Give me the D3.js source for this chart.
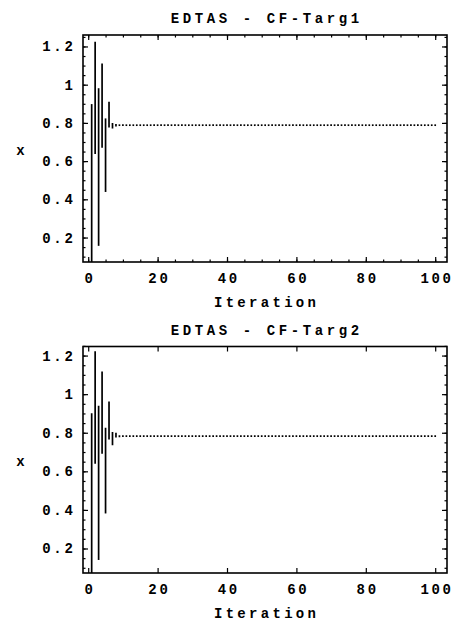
<!DOCTYPE html>
<html>
<head>
<meta charset="utf-8">
<script src="https://cdn.jsdelivr.net/npm/d3@7"></script>
<style>
  html, body { margin: 0; padding: 0; background: #fff; }
  svg { display: block; }
  text { font-family: "Liberation Mono", "DejaVu Sans Mono", monospace; fill: #000; }
</style>
</head>
<body>
<svg id="chart" width="456" height="624"></svg>
<script>
// Iteration axis
const xTicks = [0, 20, 40, 60, 80, 100];
const xMinorTicks = [0, 5, 10, 15, 20, 25, 30, 35, 40, 45, 50, 55, 60, 65, 70, 75, 80, 85, 90, 95, 100];
// x axis
const yTicks = [0.2, 0.4, 0.6, 0.8, 1.0, 1.2];
const yTickLabels = ["0.2", "0.4", "0.6", "0.8", "1", "1.2"];
const yMinorTicks = [0.1, 0.15, 0.2, 0.25, 0.3, 0.35, 0.4, 0.45, 0.5, 0.55, 0.6, 0.65, 0.7, 0.75,
                     0.8, 0.85, 0.9, 0.95, 1.0, 1.05, 1.1, 1.15, 1.2, 1.25];

const titles = ["EDTAS - CF-Targ1", "EDTAS - CF-Targ2"];
const xLabel = "Iteration";
const yLabel = "x";

// Population range (low / high) of x at each iteration 1..100
const targ1High = [
  0.894, 1.220, 0.977, 1.107, 0.819, 0.906, 0.795, 0.790, 0.788, 0.788,
  0.788, 0.788, 0.788, 0.788, 0.788, 0.788, 0.788, 0.788, 0.788, 0.788,
  0.788, 0.788, 0.788, 0.788, 0.788, 0.788, 0.788, 0.788, 0.788, 0.788,
  0.788, 0.788, 0.788, 0.788, 0.788, 0.788, 0.788, 0.788, 0.788, 0.788,
  0.788, 0.788, 0.788, 0.788, 0.788, 0.788, 0.788, 0.788, 0.788, 0.788,
  0.788, 0.788, 0.788, 0.788, 0.788, 0.788, 0.788, 0.788, 0.788, 0.788,
  0.788, 0.788, 0.788, 0.788, 0.788, 0.788, 0.788, 0.788, 0.788, 0.788,
  0.788, 0.788, 0.788, 0.788, 0.788, 0.788, 0.788, 0.788, 0.788, 0.788,
  0.788, 0.788, 0.788, 0.788, 0.788, 0.788, 0.788, 0.788, 0.788, 0.788,
  0.788, 0.788, 0.788, 0.788, 0.788, 0.788, 0.788, 0.788, 0.788, 0.788
];
const targ1Low = [
  0.000, 0.642, 0.161, 0.675, 0.443, 0.780, 0.775, 0.786, 0.788, 0.788,
  0.788, 0.788, 0.788, 0.788, 0.788, 0.788, 0.788, 0.788, 0.788, 0.788,
  0.788, 0.788, 0.788, 0.788, 0.788, 0.788, 0.788, 0.788, 0.788, 0.788,
  0.788, 0.788, 0.788, 0.788, 0.788, 0.788, 0.788, 0.788, 0.788, 0.788,
  0.788, 0.788, 0.788, 0.788, 0.788, 0.788, 0.788, 0.788, 0.788, 0.788,
  0.788, 0.788, 0.788, 0.788, 0.788, 0.788, 0.788, 0.788, 0.788, 0.788,
  0.788, 0.788, 0.788, 0.788, 0.788, 0.788, 0.788, 0.788, 0.788, 0.788,
  0.788, 0.788, 0.788, 0.788, 0.788, 0.788, 0.788, 0.788, 0.788, 0.788,
  0.788, 0.788, 0.788, 0.788, 0.788, 0.788, 0.788, 0.788, 0.788, 0.788,
  0.788, 0.788, 0.788, 0.788, 0.788, 0.788, 0.788, 0.788, 0.788, 0.788
];
const targ2High = [
  0.896, 1.218, 0.936, 1.113, 0.821, 0.957, 0.800, 0.795, 0.783, 0.782,
  0.782, 0.782, 0.782, 0.782, 0.782, 0.782, 0.782, 0.782, 0.782, 0.782,
  0.782, 0.782, 0.782, 0.782, 0.782, 0.782, 0.782, 0.782, 0.782, 0.782,
  0.782, 0.782, 0.782, 0.782, 0.782, 0.782, 0.782, 0.782, 0.782, 0.782,
  0.782, 0.782, 0.782, 0.782, 0.782, 0.782, 0.782, 0.782, 0.782, 0.782,
  0.782, 0.782, 0.782, 0.782, 0.782, 0.782, 0.782, 0.782, 0.782, 0.782,
  0.782, 0.782, 0.782, 0.782, 0.782, 0.782, 0.782, 0.782, 0.782, 0.782,
  0.782, 0.782, 0.782, 0.782, 0.782, 0.782, 0.782, 0.782, 0.782, 0.782,
  0.782, 0.782, 0.782, 0.782, 0.782, 0.782, 0.782, 0.782, 0.782, 0.782,
  0.782, 0.782, 0.782, 0.782, 0.782, 0.782, 0.782, 0.782, 0.782, 0.782
];
const targ2Low = [
  0.000, 0.644, 0.145, 0.696, 0.386, 0.769, 0.739, 0.780, 0.781, 0.782,
  0.782, 0.782, 0.782, 0.782, 0.782, 0.782, 0.782, 0.782, 0.782, 0.782,
  0.782, 0.782, 0.782, 0.782, 0.782, 0.782, 0.782, 0.782, 0.782, 0.782,
  0.782, 0.782, 0.782, 0.782, 0.782, 0.782, 0.782, 0.782, 0.782, 0.782,
  0.782, 0.782, 0.782, 0.782, 0.782, 0.782, 0.782, 0.782, 0.782, 0.782,
  0.782, 0.782, 0.782, 0.782, 0.782, 0.782, 0.782, 0.782, 0.782, 0.782,
  0.782, 0.782, 0.782, 0.782, 0.782, 0.782, 0.782, 0.782, 0.782, 0.782,
  0.782, 0.782, 0.782, 0.782, 0.782, 0.782, 0.782, 0.782, 0.782, 0.782,
  0.782, 0.782, 0.782, 0.782, 0.782, 0.782, 0.782, 0.782, 0.782, 0.782,
  0.782, 0.782, 0.782, 0.782, 0.782, 0.782, 0.782, 0.782, 0.782, 0.782
];

const panels = [
  { title: titles[0], high: targ1High, low: targ1Low, top: 35,    bottom: 262, yDomain: [0.072, 1.26],  xMinor: true },
  { title: titles[1], high: targ2High, low: targ2Low, top: 346.5, bottom: 573, yDomain: [0.073, 1.247], xMinor: false }
];

const left = 83, right = 447;
const fontSize = 14;
const svg = d3.select("#chart");

panels.forEach((p, i) => {
  const x = d3.scaleLinear().domain([-1.5, 103.4]).range([left, right]);
  const y = d3.scaleLinear().domain(p.yDomain).range([p.bottom, p.top]);
  const g = svg.append("g");

  const clipId = "clip" + i;
  svg.append("clipPath").attr("id", clipId)
    .append("rect").attr("x", left).attr("y", p.top)
    .attr("width", right - left).attr("height", p.bottom - p.top);

  // Per-iteration range of the population
  const rows = p.high.map((h, k) => ({ it: k + 1, hi: h, lo: p.low[k] }));
  g.append("g").attr("clip-path", `url(#${clipId})`)
    .selectAll("line").data(rows).join("line")
    .attr("x1", d => x(d.it)).attr("x2", d => x(d.it))
    .attr("y1", d => y(d.hi)).attr("y2", d => y(d.lo))
    .attr("stroke", "#000").attr("stroke-width", 1.7)
    .attr("stroke-linecap", "square");

  // Inward ticks on all four sides
  const addAxis = (axis, tx, ty) => {
    const a = g.append("g").attr("transform", `translate(${tx},${ty})`).call(axis);
    a.select(".domain").remove();
    a.selectAll(".tick line").attr("stroke", "#000").attr("stroke-width", 1.2);
    return a;
  };
  const major = 5, minor = 2.5;

  if (p.xMinor) {
    addAxis(d3.axisBottom(x).tickValues(xMinorTicks).tickSizeInner(-minor).tickSizeOuter(0).tickFormat(""), 0, p.bottom);
    addAxis(d3.axisTop(x).tickValues(xMinorTicks).tickSizeInner(-minor).tickSizeOuter(0).tickFormat(""), 0, p.top);
  }
  const xb = addAxis(d3.axisBottom(x).tickValues(xTicks).tickSizeInner(-major).tickSizeOuter(0).tickPadding(11).tickFormat(d3.format("d")), 0, p.bottom);
  addAxis(d3.axisTop(x).tickValues(xTicks).tickSizeInner(-major).tickSizeOuter(0).tickFormat(""), 0, p.top);

  addAxis(d3.axisLeft(y).tickValues(yMinorTicks).tickSizeInner(-minor).tickSizeOuter(0).tickFormat(""), left, 0);
  addAxis(d3.axisRight(y).tickValues(yMinorTicks).tickSizeInner(-minor).tickSizeOuter(0).tickFormat(""), right, 0);
  const yl = addAxis(d3.axisLeft(y).tickValues(yTicks).tickSizeInner(-major).tickSizeOuter(0).tickPadding(7.5)
    .tickFormat((d, k) => yTickLabels[k]), left, 0);
  addAxis(d3.axisRight(y).tickValues(yTicks).tickSizeInner(-major).tickSizeOuter(0).tickFormat(""), right, 0);

  [xb, yl].forEach(a => a.selectAll("text")
    .style("font-family", '"Liberation Mono", monospace')
    .style("font-size", fontSize + "px")
    .style("font-weight", "bold")
    .style("letter-spacing", "2.7px"));
  xb.selectAll("text").attr("dx", "1.35px");

  // Frame
  g.append("rect").attr("x", left).attr("y", p.top)
    .attr("width", right - left).attr("height", p.bottom - p.top)
    .attr("fill", "none").attr("stroke", "#000").attr("stroke-width", 1.6);

  // Title and axis labels
  g.append("text").attr("x", (left + right) / 2 + 1.8).attr("y", p.top - 12)
    .attr("text-anchor", "middle").style("font-size", fontSize + "px").style("font-weight", "bold")
    .style("letter-spacing", "3.6px").text(p.title);
  g.append("text").attr("x", (left + right) / 2 + 1.6).attr("y", p.bottom + 45)
    .attr("text-anchor", "middle").style("font-size", fontSize + "px").style("font-weight", "bold")
    .style("letter-spacing", "3.3px").text(xLabel);
  g.append("text").attr("x", 20.5).attr("y", (p.top + p.bottom) / 2 + 6)
    .attr("text-anchor", "middle").style("font-size", fontSize + "px").style("font-weight", "bold")
    .text(yLabel);
});
</script>
</body>
</html>
